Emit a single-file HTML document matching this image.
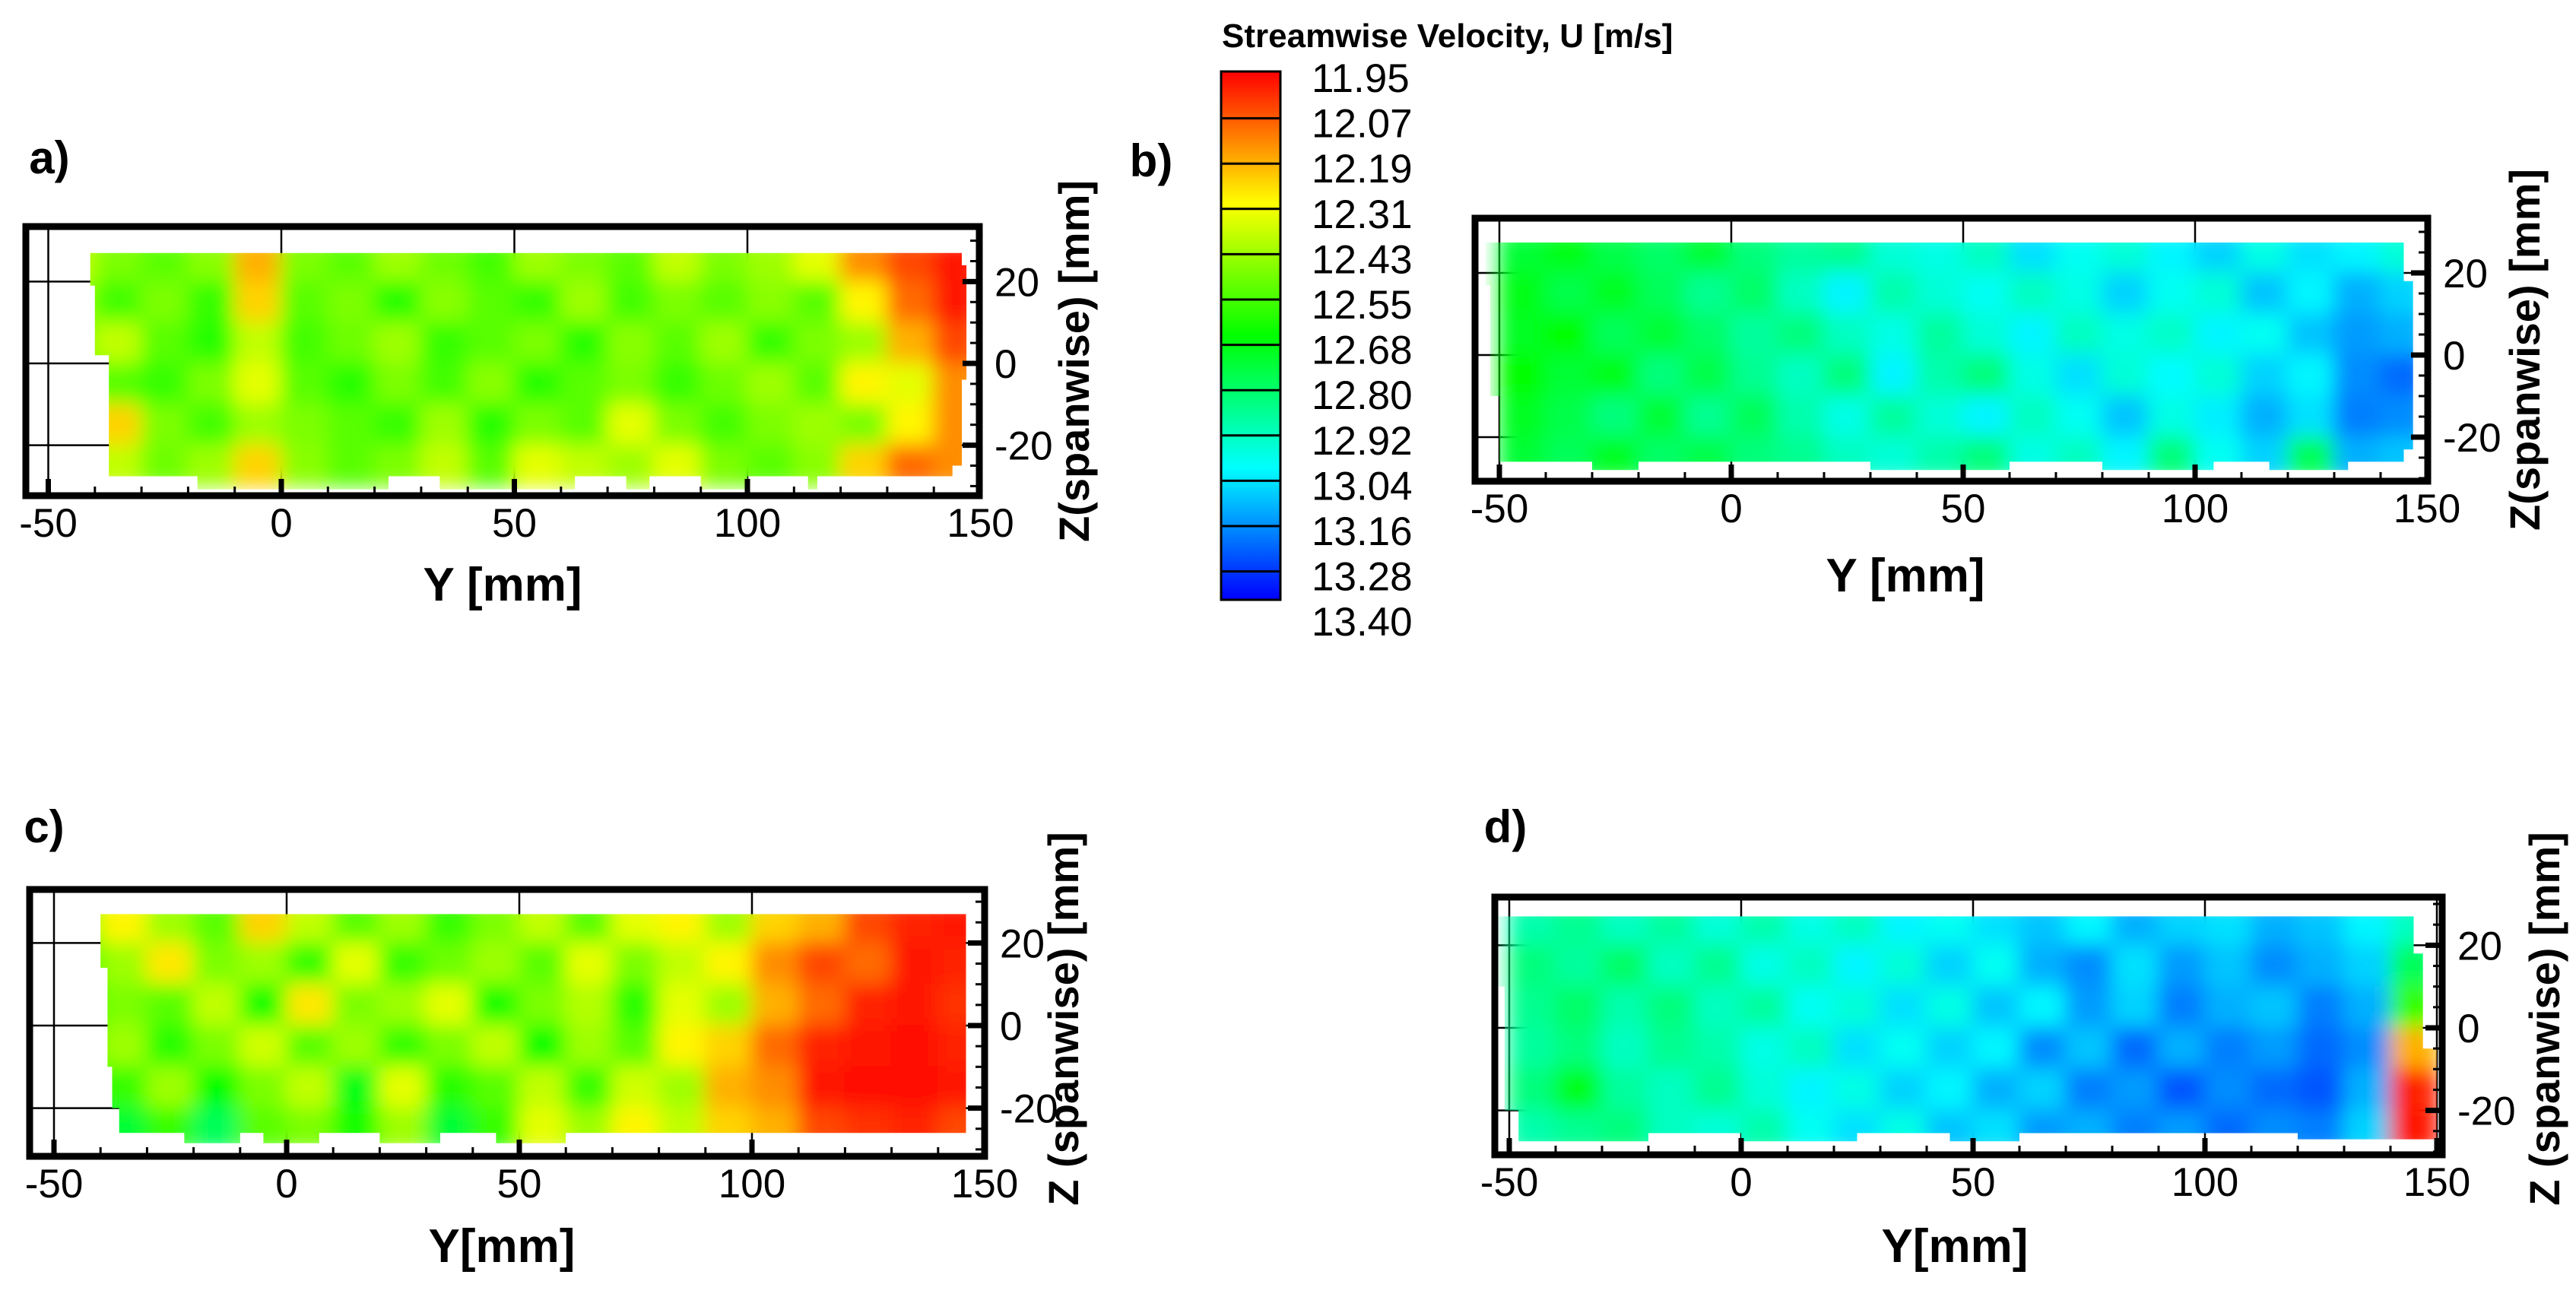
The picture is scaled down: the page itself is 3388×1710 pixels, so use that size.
<!DOCTYPE html>
<html><head><meta charset="utf-8"><style>
html,body{margin:0;padding:0;background:#fff;}
svg{display:block;}
text{font-family:"Liberation Sans Narrow","Liberation Sans",sans-serif;fill:#000;}
.tk{font-size:53px;}
.ttl{font-size:62px;font-weight:bold;font-family:"Liberation Sans",sans-serif;}
.zt{font-size:56px;font-weight:bold;font-family:"Liberation Sans",sans-serif;}
.lt{font-size:60px;font-weight:bold;font-family:"Liberation Sans",sans-serif;}
</style></head><body>
<svg id="fig" xmlns="http://www.w3.org/2000/svg" width="3388" height="1710" viewBox="0 0 3388 1710">
<defs>
<filter id="blur" x="-5%" y="-10%" width="110%" height="120%"><feGaussianBlur stdDeviation="13" edgeMode="duplicate"/></filter>
<linearGradient id="cbgrad" x1="0" y1="0" x2="0" y2="1">
<stop offset="0" stop-color="#ff0000"/><stop offset="0.125" stop-color="#ff8000"/><stop offset="0.25" stop-color="#ffff00"/>
<stop offset="0.5" stop-color="#00ff00"/><stop offset="0.75" stop-color="#00ffff"/><stop offset="1" stop-color="#0000ff"/>
</linearGradient>
</defs>
</svg>
<script>
// colour scale
const levels = [11.95,12.07,12.19,12.31,12.43,12.55,12.68,12.80,12.92,13.04,13.16,13.28,13.40];
const colTicksY = [-50,0,50,100,150];
const rowTicksZ = [20,0,-20];
// grid centres (mm)
const gridY = [-45,-35,-25,-15,-5,5,15,25,35,45,55,65,75,85,95,105,115,125,135,145];
const gridZ = [25,15,5,-5,-15,-25];
const valsA = [
[12.40,12.50,12.55,12.48,12.20,12.50,12.55,12.45,12.52,12.58,12.45,12.50,12.55,12.40,12.50,12.45,12.35,12.15,12.05,11.98],
[12.45,12.58,12.50,12.60,12.25,12.55,12.50,12.62,12.48,12.55,12.60,12.45,12.58,12.50,12.55,12.48,12.55,12.30,12.10,11.98],
[12.50,12.40,12.55,12.62,12.40,12.58,12.52,12.45,12.60,12.55,12.50,12.62,12.48,12.55,12.45,12.60,12.50,12.45,12.20,12.05],
[12.45,12.55,12.60,12.50,12.35,12.55,12.62,12.50,12.58,12.48,12.62,12.55,12.50,12.60,12.52,12.45,12.55,12.30,12.35,12.15],
[12.40,12.25,12.50,12.58,12.45,12.50,12.55,12.60,12.45,12.62,12.50,12.55,12.35,12.50,12.58,12.50,12.45,12.50,12.30,12.15],
[12.45,12.40,12.52,12.45,12.25,12.48,12.55,12.50,12.40,12.55,12.35,12.40,12.45,12.35,12.50,12.55,12.48,12.25,12.10,12.15]];
const valsB = [
[12.75,12.70,12.78,12.82,12.75,12.85,12.90,12.88,12.98,13.00,12.95,13.08,13.02,12.98,13.05,13.10,13.00,13.08,13.05,12.98],
[12.70,12.78,12.72,12.80,12.88,12.82,12.95,13.05,12.92,12.98,13.02,12.95,13.00,13.10,13.02,12.98,13.12,13.05,13.15,13.10],
[12.72,12.68,12.80,12.75,12.82,12.90,12.85,12.95,13.00,12.90,12.98,13.05,12.95,13.00,12.96,13.05,13.02,13.12,13.18,13.15],
[12.68,12.75,12.70,12.85,12.78,12.88,12.95,12.85,13.05,12.92,12.85,13.00,13.08,12.98,13.04,12.98,13.10,13.05,13.20,13.25],
[12.72,12.78,12.85,12.75,12.88,12.80,12.92,13.00,12.90,12.98,13.05,12.95,13.02,13.12,13.00,13.06,13.15,13.08,13.22,13.20],
[12.75,12.80,12.72,12.82,12.78,12.85,12.88,12.95,12.98,12.92,12.85,13.00,12.95,13.05,12.85,13.02,13.10,12.80,13.15,13.12]];
const valsC = [
[12.50,12.30,12.45,12.55,12.25,12.40,12.55,12.45,12.60,12.50,12.40,12.55,12.35,12.30,12.45,12.25,12.20,12.05,12.00,11.98],
[12.55,12.45,12.28,12.50,12.45,12.60,12.35,12.60,12.52,12.45,12.55,12.35,12.50,12.40,12.30,12.15,12.05,12.10,11.98,12.00],
[12.60,12.50,12.55,12.40,12.65,12.28,12.50,12.45,12.35,12.65,12.50,12.42,12.62,12.35,12.45,12.20,12.10,12.00,11.98,12.02],
[12.70,12.45,12.62,12.50,12.38,12.55,12.45,12.60,12.50,12.40,12.68,12.45,12.55,12.30,12.25,12.10,12.00,11.98,11.96,12.00],
[12.55,12.60,12.45,12.68,12.50,12.40,12.70,12.35,12.62,12.55,12.40,12.60,12.38,12.45,12.20,12.15,11.98,11.96,11.97,11.98],
[12.85,12.75,12.60,12.80,12.55,12.50,12.65,12.45,12.75,12.60,12.35,12.45,12.30,12.40,12.25,12.20,12.05,12.02,12.00,12.05]];
const valsD = [
[12.92,12.88,12.95,12.90,12.98,12.92,13.00,12.95,13.05,13.02,13.08,13.12,13.05,13.15,13.10,13.08,13.15,13.12,13.05,12.95],
[12.85,12.90,12.82,12.95,12.88,13.00,12.95,13.05,12.98,13.10,13.02,13.15,13.20,13.08,13.18,13.12,13.20,13.15,13.10,12.80],
[12.88,12.82,12.92,12.85,12.95,12.90,13.02,12.98,13.08,13.00,13.12,13.05,13.18,13.10,13.22,13.15,13.12,13.22,13.15,12.60],
[12.90,12.85,12.95,12.88,12.92,13.00,12.95,13.08,13.02,13.10,13.05,13.20,13.12,13.25,13.15,13.22,13.18,13.25,13.20,12.20],
[12.85,12.70,12.90,12.95,12.88,12.98,13.05,13.00,13.10,13.05,13.15,13.10,13.22,13.18,13.28,13.20,13.25,13.28,13.15,12.00],
[12.92,12.88,12.85,12.95,12.98,12.92,13.02,13.08,13.00,13.12,13.08,13.18,13.15,13.22,13.18,13.25,13.20,13.22,13.10,11.98]];

const NS = "http://www.w3.org/2000/svg";
const svg = document.getElementById('fig');
function mk(tag, attrs, parent){const e=document.createElementNS(NS,tag);for(const k in attrs)e.setAttribute(k,attrs[k]);(parent||svg).appendChild(e);return e;}
function lerp(a,b,t){return a+(b-a)*t;}
function colorOf(v){
  const stops=[[0,[255,0,0]],[0.125,[255,128,0]],[0.25,[255,255,0]],[0.5,[0,255,0]],[0.75,[0,255,255]],[1,[0,0,255]]];
  let t=(v-levels[0])/(levels[levels.length-1]-levels[0]);t=Math.max(0,Math.min(1,t));
  for(let i=1;i<stops.length;i++){if(t<=stops[i][0]){const a=stops[i-1],b=stops[i];const u=(t-a[0])/(b[0]-a[0]);
    return 'rgb('+Math.round(lerp(a[1][0],b[1][0],u))+','+Math.round(lerp(a[1][1],b[1][1],u))+','+Math.round(lerp(a[1][2],b[1][2],u))+')';}}
  return 'rgb(0,0,255)';
}

const panels = [
 {id:'a',vals:valsA,x0:370,sx:6.13,z0:478,sz:5.38,f:{l:34,t:298,r:1288,b:652},lbl:[65,228],xt:'Y [mm]',xtp:[661,790],zt:'Z(spanwise) [mm]',ztb:[1432,475],
  poly:[[-41,27],[146,27],[146,24],[147,24],[147,-4],[146,-4],[146,-25],[144,-25],[144,-27.6],[115,-27.6],[115,-30.8],[113,-30.8],[113,-27.6],[100,-27.6],[100,-30.8],[90,-30.8],[90,-27.6],[79,-27.6],[79,-30.8],[74,-30.8],[74,-27.6],[63,-27.6],[63,-30.8],[34,-30.8],[34,-27.6],[23,-27.6],[23,-30.8],[-18,-30.8],[-18,-27.6],[-37,-27.6],[-37,2],[-40,2],[-40,19],[-41,19]]},
 {id:'b',vals:valsB,x0:2277,sx:6.1,z0:467,sz:5.4,f:{l:1940,t:287,r:3193,b:633},lbl:[1514,232],xt:'Y [mm]',xtp:[2506,778],zt:'Z(spanwise) [mm]',ztb:[3340,460],
  poly:[[-53,27.4],[145,27.4],[145,18],[147,18],[147,-23],[145,-23],[145,-26],[133,-26],[133,-28],[116,-28],[116,-26],[104,-26],[104,-28],[80,-28],[80,-26],[60,-26],[60,-28],[30,-28],[30,-26],[-20,-26],[-20,-28],[-30,-28],[-30,-26],[-50,-26],[-50,-10],[-52,-10],[-52,17],[-53,17]]},
 {id:'c',vals:valsC,x0:377,sx:6.12,z0:1349,sz:5.43,f:{l:39,t:1170,r:1295,b:1521},lbl:[58,1108],xt:'Y[mm]',xtp:[660,1660],zt:'Z (spanwise) [mm]',ztb:[1418,1340],
  poly:[[-40,27],[146,27],[146,-26],[60,-26],[60,-28.5],[45,-28.5],[45,-26],[33,-26],[33,-28.5],[20,-28.5],[20,-26],[7,-26],[7,-28.5],[-5,-28.5],[-5,-26],[-10,-26],[-10,-28.5],[-22,-28.5],[-22,-26],[-36,-26],[-36,-20],[-37.5,-20],[-37.5,-10],[-38.5,-10],[-38.5,14],[-40,14]]},
 {id:'d',vals:valsD,x0:2290,sx:6.1,z0:1352,sz:5.43,f:{l:1966,t:1180,r:3212,b:1519},lbl:[1980,1108],xt:'Y[mm]',xtp:[2571,1660],zt:'Z (spanwise) [mm]',ztb:[3366,1340],
  poly:[[-53,27],[145,27],[145,18],[147,18],[147,-5],[150,-5],[150,-27],[120,-27],[120,-25.5],[60,-25.5],[60,-27.5],[45,-27.5],[45,-25.5],[25,-25.5],[25,-27.5],[0,-27.5],[0,-25.5],[-20,-25.5],[-20,-27.5],[-48,-27.5],[-48,-20],[-51,-20],[-51,10],[-53,10]]}
];

panels.forEach(function(p){
  const X=function(y){return p.x0+y*p.sx;};
  const Z=function(z){return p.z0-z*p.sz;};
  const g=mk('g',{});
  
  
  colTicksY.forEach(function(v){const x=X(v);if(x<p.f.l+2||x>p.f.r-2)return;
    const l=mk('line',{x1:x,y1:p.f.t,x2:x,y2:p.f.b,stroke:'#000','stroke-width':2.5},g);
    
    });
  rowTicksZ.forEach(function(v){const y=Z(v);
    const l=mk('line',{x1:p.f.l,y1:y,x2:p.f.r,y2:y,stroke:'#000','stroke-width':2.5},g);
    
    });
  const cp=mk('clipPath',{id:'clip'+p.id},g);
  const pts=p.poly.map(function(q){return X(q[0]).toFixed(1)+','+Z(q[1]).toFixed(1);}).join(' ');
  mk('polygon',{points:pts},cp);
  const clipG=mk('g',{'clip-path':'url(#clip'+p.id+')'},g);
  
  
  const hm=mk('g',{filter:'url(#blur)'},clipG);
  p.vals.forEach(function(row,ri){row.forEach(function(v,ci){
    const yc=gridY[ci],zc=gridZ[ri];
    const r=mk('rect',{x:X(yc-5)-1,y:Z(zc+5)-1,width:10*p.sx+2,height:10*p.sz+2,fill:colorOf(v)},hm);
    
    
  });});
  for(let v=-50;v<=150;v+=10){const x=X(v);if(x<p.f.l+3||x>p.f.r-3)continue;const maj=(v%50===0);
    const t=mk('line',{x1:x,y1:p.f.b,x2:x,y2:p.f.b-(maj?22:12),stroke:'#000','stroke-width':maj?7:3},g);
    
    }
  for(let v=-30;v<=30;v+=5){const y=Z(v);if(y<p.f.t+3||y>p.f.b-3)continue;const maj=(v%20===0);
    const t=mk('line',{x1:p.f.r,y1:y,x2:p.f.r-(maj?22:12),y2:y,stroke:'#000','stroke-width':maj?7:3},g);
    
    }
  const fr=mk('rect',{x:p.f.l,y:p.f.t,width:p.f.r-p.f.l,height:p.f.b-p.f.t,fill:'none',stroke:'#000','stroke-width':9},g);
  
  
  colTicksY.forEach(function(v){
    const t=mk('text',{x:X(v),y:p.f.b+54,'text-anchor':'middle','class':'tk'},g);t.textContent=String(v);
    
    });
  rowTicksZ.forEach(function(v){
    const t=mk('text',{x:p.f.r+20,y:Z(v)+19,'text-anchor':'start','class':'tk'},g);t.textContent=String(v);
    
    });
  const xt=mk('text',{x:p.xtp[0],y:p.xtp[1],'text-anchor':'middle','class':'ttl'},g);xt.textContent=p.xt;
  
  
  const zt=mk('text',{x:0,y:0,'text-anchor':'middle','class':'zt',transform:'translate('+p.ztb[0]+','+p.ztb[1]+') rotate(-90)'},g);zt.textContent=p.zt;
  
  
  const lb=mk('text',{x:p.lbl[0],y:p.lbl[1],'text-anchor':'middle','class':'lt'},g);lb.textContent=p.id+')';
  
  
});

// colorbar
const cb=mk('g',{});


const cbTop=94, cbBot=789, cbL=1606, cbW=78, lblStep=59.6, lblTop=102;
const cbr=mk('rect',{x:cbL,y:cbTop,width:cbW,height:cbBot-cbTop,fill:'url(#cbgrad)',stroke:'#000','stroke-width':3},cb);


levels.forEach(function(v,i){
  const y=lblTop+i*lblStep-6;
  if(y<=cbTop+4||y>=cbBot-4)return;
  const l=mk('line',{x1:cbL,y1:y,x2:cbL+cbW,y2:y,stroke:'#000','stroke-width':3},cb);
  
  
});
levels.forEach(function(v,i){
  const t=mk('text',{x:1725,y:lblTop+i*lblStep+19,'class':'tk'},cb);t.textContent=v.toFixed(2);
  
  
});
const cbt=mk('text',{x:1607,y:62,style:'font-size:44px;font-weight:bold;font-family:"Liberation Sans",sans-serif'},cb);
cbt.textContent='Streamwise Velocity, U [m/s]';


</script>
</body></html>
